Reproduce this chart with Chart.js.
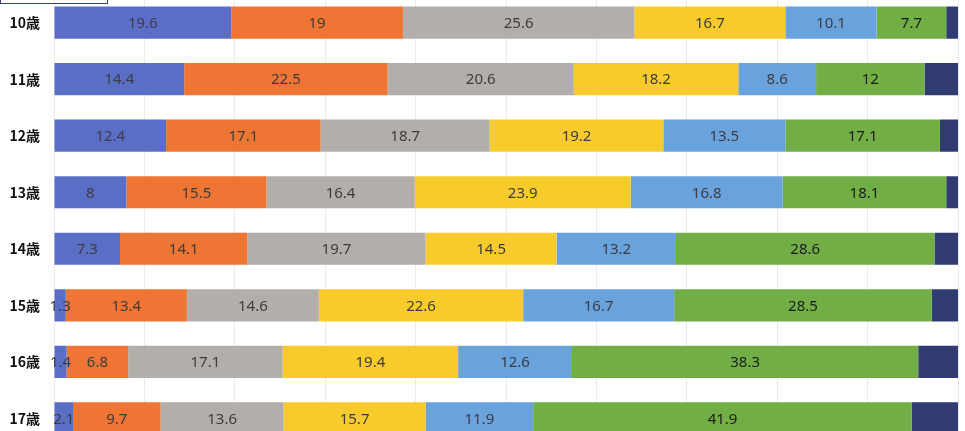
<!DOCTYPE html>
<html>
<head>
<meta charset="utf-8">
<script src="https://cdn.jsdelivr.net/npm/chart.js@4/dist/chart.umd.min.js"></script>
<style>
  html, body { margin: 0; padding: 0; background: #fff; overflow: hidden; }
  /* chart area runs a little past the top and bottom of the picture */
  #chart1 { position: absolute; left: 0; top: -28px; }
  #box { position: absolute; left: 0; top: -2px; width: 106px; height: 5px; border: 1px solid #34407a; border-top: none; }
</style>
</head>
<body>
<canvas id="chart1" width="965" height="497"></canvas>
<div id="box"></div>
<script>
// ages (categories)
const labels = ['10歳', '11歳', '12歳', '13歳', '14歳', '15歳', '16歳', '17歳'];

// series values (percent)
const s1 = [19.6, 14.4, 12.4, 8, 7.3, 1.3, 1.4, 2.1];
const s2 = [19, 22.5, 17.1, 15.5, 14.1, 13.4, 6.8, 9.7];
const s3 = [25.6, 20.6, 18.7, 16.4, 19.7, 14.6, 17.1, 13.6];
const s4 = [16.7, 18.2, 19.2, 23.9, 14.5, 22.6, 19.4, 15.7];
const s5 = [10.1, 8.6, 13.5, 16.8, 13.2, 16.7, 12.6, 11.9];
const s6 = [7.7, 12, 17.1, 18.1, 28.6, 28.5, 38.3, 41.9];
const s7 = [1.3, 3.7, 2.0, 1.3, 2.6, 2.9, 4.4, 5.1];

const colors = ['#5a6ec6', '#ef7534', '#b2afaa', '#f8cb2c', '#6aa2dc', '#71ae45', '#303b72'];
const labelColors = ['#3c3c44', '#3c3c3c', '#3c3c3c', '#3c3c3c', '#3c3c44', '#1c1c1c', null];

// draws the value in the middle of each segment
const barLabels = {
  id: 'barLabels',
  afterDatasetsDraw(chart) {
    const ctx = chart.ctx;
    ctx.save();
    ctx.font = '15px "Noto Sans", sans-serif';
    ctx.textAlign = 'center';
    ctx.textBaseline = 'middle';
    chart.data.datasets.forEach((ds, i) => {
      if (!labelColors[i]) return;
      ctx.fillStyle = labelColors[i];
      chart.getDatasetMeta(i).data.forEach((bar, j) => {
        const cx = (bar.x + bar.base) / 2;
        ctx.fillText(String(ds.data[j]), cx, bar.y + 1);
      });
    });
    ctx.restore();
  }
};

const series = [s1, s2, s3, s4, s5, s6, s7];

const config = {
  type: 'bar',
  data: {
    labels: labels,
    datasets: series.map((d, i) => ({
      data: d,
      backgroundColor: colors[i],
      borderWidth: 0,
      barPercentage: 0.57,
      categoryPercentage: 1
    }))
  },
  options: {
    indexAxis: 'y',
    responsive: false,
    animation: false,
    layout: { padding: { left: 0, right: 7, top: 0, bottom: 0 } },
    plugins: {
      legend: { display: false },
      tooltip: { enabled: false }
    },
    scales: {
      x: {
        stacked: true,
        min: 0,
        max: 100,
        ticks: { display: false, stepSize: 10 },
        grid: { color: '#ebebeb', drawTicks: false },
        border: { display: false }
      },
      y: {
        stacked: true,
        afterFit: (scale) => { scale.width = 54; },
        ticks: {
          color: '#111',
          padding: 14,
          font: { family: '"Noto Sans CJK JP", sans-serif', size: 14, weight: 'bold' }
        },
        grid: { display: false, drawTicks: false },
        border: { display: false }
      }
    }
  },
  plugins: [barLabels]
};

new Chart(document.getElementById('chart1'), config);
</script>
</body>
</html>
